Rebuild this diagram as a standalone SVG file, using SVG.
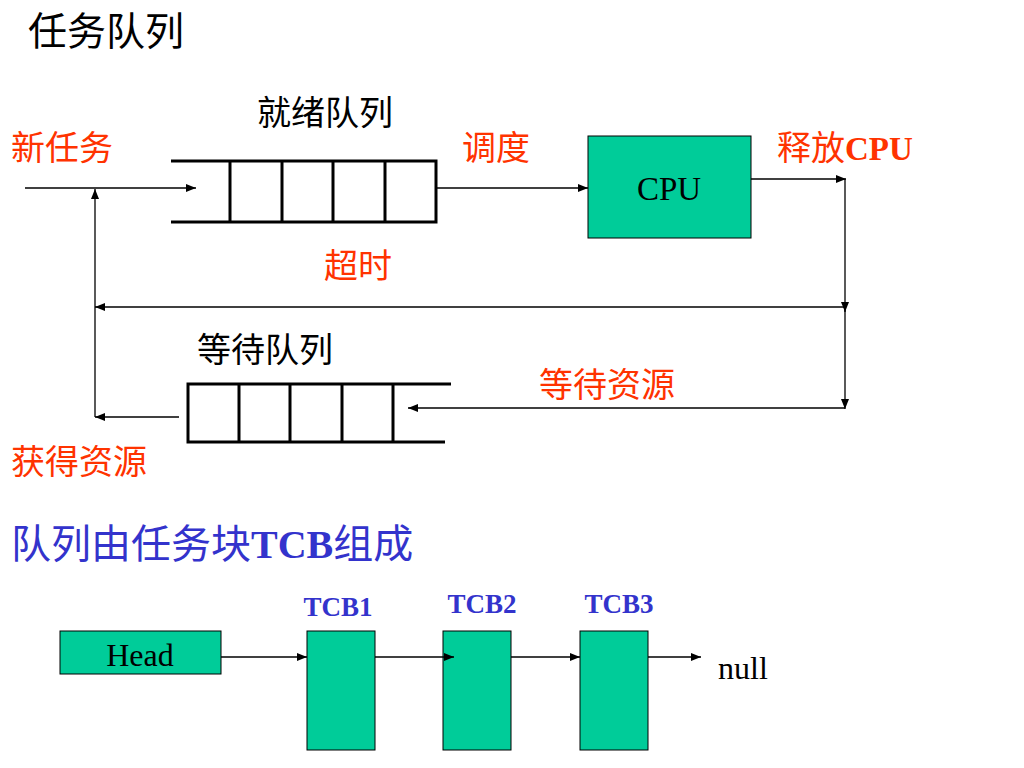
<svg xmlns="http://www.w3.org/2000/svg" width="1024" height="768" viewBox="0 0 1024 768">
<defs>
<marker id="ah" viewBox="0 0 10 10" refX="10" refY="5" markerWidth="10" markerHeight="10" markerUnits="userSpaceOnUse" orient="auto">
<path d="M0,1 L10,5 L0,9 Z" fill="#000"/>
</marker>
</defs>
<style>
.cjk{font-family:"Noto Sans CJK SC","Liberation Sans",sans-serif}
.red{fill:#FF3300}
.blk{fill:#000}
.blue{fill:#3333CC}
.ser{font-family:"Liberation Serif",serif}
.bold{font-weight:bold}
.q{stroke:#000;stroke-width:3;fill:none}
.ln{stroke:#000;stroke-width:1.3;fill:none}
.box{fill:#00CC99;stroke:#000;stroke-width:1}
</style>
<rect width="1024" height="768" fill="#fff"/>
<text class="cjk blk" x="28" y="45" font-size="39">任务队列</text>

<g id="ready-queue">
<path class="q" d="M171,161 H436 V222 H171 M230,161 V222 M282,161 V222 M333,161 V222 M385,161 V222"/>
<text class="cjk blk" x="257" y="125" font-size="34">就绪队列</text>
</g>

<g id="cpu">
<rect class="box" x="588" y="136" width="163" height="102"/>
<text class="ser blk" x="669" y="200" font-size="33" text-anchor="middle">CPU</text>
</g>

<g id="wait-queue">
<path class="q" d="M451,384 H188 V442 H445 M239,384 V442 M290,384 V442 M342,384 V442 M393,384 V442"/>
<text class="cjk blk" x="197" y="362" font-size="34">等待队列</text>
</g>

<g id="list-head">
<rect class="box" x="60" y="631" width="161" height="43"/>
<text class="ser blk" x="140" y="666" font-size="32" text-anchor="middle">Head</text>
</g>
<g id="tcb1">
<rect class="box" x="307" y="631" width="68" height="119"/>
<text class="ser bold blue" x="338" y="616" font-size="27" text-anchor="middle">TCB1</text>
</g>
<g id="tcb2">
<rect class="box" x="443" y="631" width="68" height="119"/>
<text class="ser bold blue" x="482" y="613" font-size="27" text-anchor="middle">TCB2</text>
</g>
<g id="tcb3">
<rect class="box" x="580" y="631" width="68" height="119"/>
<text class="ser bold blue" x="619" y="613" font-size="27" text-anchor="middle">TCB3</text>
</g>
<g id="null">
<text class="ser blk" x="718" y="679" font-size="32">null</text>
</g>

<g id="connectors">
<line class="ln" x1="25" y1="188" x2="196" y2="188" marker-end="url(#ah)"/>
<line class="ln" x1="95" y1="417" x2="95" y2="189" marker-end="url(#ah)"/>
<line class="ln" x1="436" y1="188" x2="588" y2="188" marker-end="url(#ah)"/>
<line class="ln" x1="751" y1="179" x2="846" y2="179" marker-end="url(#ah)"/>
<line class="ln" x1="845" y1="179" x2="845" y2="312" marker-end="url(#ah)"/>
<line class="ln" x1="845" y1="307" x2="95" y2="307" marker-end="url(#ah)"/>
<line class="ln" x1="845" y1="307" x2="845" y2="409" marker-end="url(#ah)"/>
<line class="ln" x1="845" y1="408" x2="408" y2="408" marker-end="url(#ah)"/>
<line class="ln" x1="179" y1="417" x2="95" y2="417" marker-end="url(#ah)"/>
<line class="ln" x1="221" y1="657" x2="307" y2="657" marker-end="url(#ah)"/>
<line class="ln" x1="375" y1="657" x2="454" y2="657" marker-end="url(#ah)"/>
<line class="ln" x1="511" y1="657" x2="580" y2="657" marker-end="url(#ah)"/>
<line class="ln" x1="648" y1="657" x2="701" y2="657" marker-end="url(#ah)"/>
</g>

<g id="labels">
<text class="cjk red" x="11" y="160" font-size="34">新任务</text>
<text class="cjk red" x="462" y="160" font-size="34">调度</text>
<text class="cjk red" x="777" y="160" font-size="34">释放<tspan class="ser bold" font-size="33">CPU</tspan></text>
<text class="cjk red" x="324" y="278" font-size="34">超时</text>
<text class="cjk red" x="539" y="397" font-size="34">等待资源</text>
<text class="cjk red" x="11" y="474" font-size="34">获得资源</text>
<text class="cjk blue" x="11" y="558" font-size="40">队列由任务块<tspan class="ser bold">TCB</tspan>组成</text>
</g>
</svg>
